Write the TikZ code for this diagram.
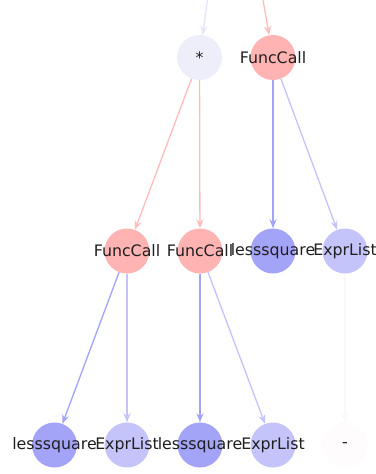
\documentclass[tikz,border=0pt]{standalone}
\usepackage{fontspec}
\setmainfont{DejaVu Sans}
\usetikzlibrary{arrows.meta}
\definecolor{lav}{HTML}{EEEEFB}
\definecolor{lavedge}{HTML}{E4E4FA}
\definecolor{pinkn}{HTML}{FFB3B3}
\definecolor{pinke}{HTML}{FFBCBC}
\definecolor{lsq}{HTML}{A3A3F7}
\definecolor{exl}{HTML}{C4C4FA}
\definecolor{dash}{HTML}{FEFCFC}
\definecolor{dashe}{HTML}{F9F9F9}
\tikzset{
  tn/.style={circle, minimum size=45pt, inner sep=0pt, text=black!88,
    font=\fontsize{15.8}{18}\selectfont},
  ed/.style={line width=1.3pt, -{Stealth[length=9pt,width=7pt]}},
}
\newcommand{\lbl}[1]{\makebox[0pt]{#1}}
\begin{document}
\begin{tikzpicture}[x=1pt,y=-1pt]
\useasboundingbox[fill=white] (0,0) rectangle (375,474);
\node[tn, fill=lav] (star) at (199.5,57.5) {\lbl{*}};
\node[tn, fill=pinkn] (fc0) at (273,57.5) {\lbl{FuncCall}};
\node[tn, fill=pinkn] (fc1) at (127,251) {\lbl{FuncCall}};
\node[tn, fill=pinkn] (fc2) at (200,251) {\lbl{FuncCall}};
\node[tn, fill=lsq] (ls0) at (273,251) {\lbl{lesssquare}};
\node[tn, fill=exl] (ex0) at (345,251) {\lbl{ExprList}};
\node[tn, fill=lsq] (ls1) at (54.5,445) {\lbl{lesssquare}};
\node[tn, fill=exl] (ex1) at (127,445) {\lbl{ExprList}};
\node[tn, fill=lsq] (ls2) at (200,445) {\lbl{lesssquare}};
\node[tn, fill=exl] (ex2) at (273,445) {\lbl{ExprList}};
\node[tn, fill=dash] (mn) at (345,445) {\lbl{-}};
\coordinate (in1) at (207.5,0);
\coordinate (in2) at (263,0);
\draw[ed, draw=lavedge, fill=lavedge] (in1) -- (star);
\draw[ed, draw=pinke, fill=pinke] (in2) -- (fc0);
\draw[ed, draw=pinke, fill=pinke] (star) -- (fc1);
\draw[ed, draw=pinke, fill=pinke] (star) -- (fc2);
\draw[ed, draw=lsq, fill=lsq] (fc0) -- (ls0);
\draw[ed, draw=exl, fill=exl] (fc0) -- (ex0);
\draw[ed, draw=lsq, fill=lsq] (fc1) -- (ls1);
\draw[ed, draw=exl, fill=exl] (fc1) -- (ex1);
\draw[ed, draw=lsq, fill=lsq] (fc2) -- (ls2);
\draw[ed, draw=exl, fill=exl] (fc2) -- (ex2);
\draw[ed, draw=dashe, fill=dashe] (ex0) -- (mn);
\end{tikzpicture}
\end{document}
